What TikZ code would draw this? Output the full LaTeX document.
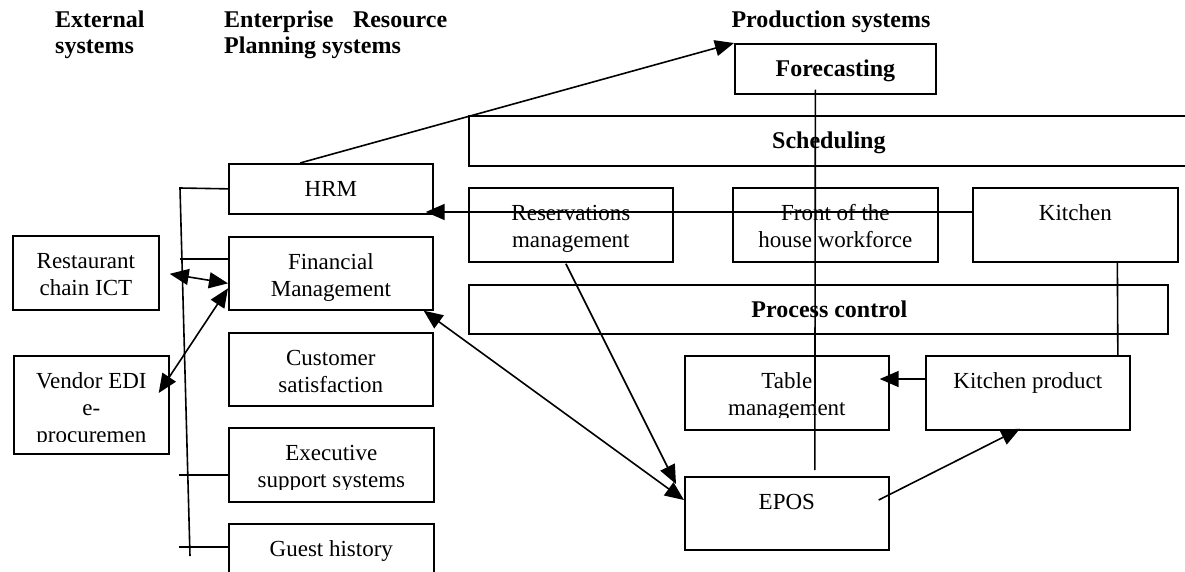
\documentclass[tikz,border=0pt]{standalone}
\usepackage{fontspec}
\setmainfont{Liberation Serif}
\usetikzlibrary{arrows.meta,calc}
\newcommand\mybt[2]{\parbox[t]{#1}{\centering\rule{0pt}{33pt}#2}}
\begin{document}
\begin{tikzpicture}[x=1pt,y=-1pt,
  box/.style={draw,line width=1.7pt,inner sep=0pt,anchor=north west},
  txt/.style={inner sep=0pt,anchor=north,font=\fontsize{23}{27}\selectfont},
  btxt/.style={inner sep=0pt,anchor=north,font=\fontsize{24}{27}\selectfont\bfseries},
  head/.style={inner sep=0pt,font=\fontsize{24}{26}\selectfont\bfseries},
  conn/.style={line width=1.6pt},
  arr/.style={conn,-{Triangle[length=19pt,width=16pt]}},
  darr/.style={conn,{Triangle[length=19pt,width=16pt]}-{Triangle[length=19pt,width=16pt]}},
]
\useasboundingbox (0,0) rectangle (1185,571);
\clip (0,0) rectangle (1185,571);

% headings
\node[head,anchor=base west] (hext) at (55,27) {\parbox[t]{150pt}{External\\systems}};
\node[head,anchor=base west] (herp) at (224,27) {\parbox[t]{230pt}{\makebox[223pt]{Enterprise\hfill Resource}\\Planning systems}};
\node[head,anchor=base] (hprod) at (831,27) {Production systems};

% boxes
\node[box,minimum width=201pt,minimum height=50pt] (fore) at (734,43) {};
\node[box,minimum width=720pt,minimum height=50pt] (sched) at (468,115) {};
\node[box,minimum width=204pt,minimum height=50pt] (hrm) at (228,163) {};
\node[box,minimum width=204pt,minimum height=74pt] (res) at (468,187) {};
\node[box,minimum width=205pt,minimum height=74pt] (front) at (732,187) {};
\node[box,minimum width=205pt,minimum height=74pt] (kit) at (972,187) {};
\node[box,minimum width=204pt,minimum height=73pt] (fin) at (228,236) {};
\node[box,minimum width=146pt,minimum height=74pt] (ict) at (12,235) {};
\node[box,minimum width=699pt,minimum height=49pt] (proc) at (468,284) {};
\node[box,minimum width=204pt,minimum height=73pt] (cust) at (228,332) {};
\node[box,minimum width=155pt,minimum height=98pt] (vend) at (13,355) {};
\node[box,minimum width=204pt,minimum height=74pt] (table) at (684,355) {};
\node[box,minimum width=204pt,minimum height=74pt] (kprod) at (925,355) {};
\node[box,minimum width=205pt,minimum height=74pt] (exec) at (228,427) {};
\node[box,minimum width=204pt,minimum height=73pt] (epos) at (684,476) {};
\node[box,minimum width=205pt,minimum height=74pt] (guest) at (228,523) {};

% texts
\node[btxt] (tfore) at (fore.north) {\mybt{201pt}{Forecasting}};
\node[btxt] (tsched) at (sched.north) {\mybt{720pt}{Scheduling}};
\node[btxt] (tproc) at ($(proc.north)+(11,0)$) {\mybt{699pt}{Process control}};
\node[txt] (thrm) at (hrm.north) {\mybt{204pt}{HRM}};
\node[txt] (tres) at (res.north) {\mybt{204pt}{Reservations\\management}};
\node[txt] (tfront) at (front.north) {\mybt{205pt}{Front of the\\house workforce}};
\node[txt] (tkit) at (kit.north) {\mybt{205pt}{Kitchen}};
\begin{scope}
\clip (fin.north west) rectangle ($(fin.south east)+(0,-7)$);
\node[txt] (tfin) at (fin.north) {\mybt{204pt}{Financial\\Management}};
\end{scope}
\node[txt] (tict) at (ict.north) {\mybt{146pt}{Restaurant\\chain ICT}};
\node[txt] (tcust) at (cust.north) {\mybt{204pt}{Customer\\satisfaction}};
\begin{scope}
\clip (vend.north west) rectangle ($(vend.south east)+(0,-13)$);
\node[txt] (tvend) at (vend.north) {\mybt{155pt}{Vendor EDI\\e-\\procuremen}};
\end{scope}
\begin{scope}
\clip (table.north west) rectangle ($(table.south east)+(0,-13)$);
\node[txt] (ttable) at (table.north) {\mybt{204pt}{Table\\management}};
\end{scope}
\node[txt] (tkprod) at (kprod.north) {\mybt{204pt}{Kitchen product}};
\begin{scope}
\clip (exec.north west) rectangle ($(exec.south east)+(0,-13)$);
\node[txt] (texec) at (exec.north) {\mybt{205pt}{Executive\\support systems}};
\end{scope}
\node[txt] (tepos) at (epos.north) {\mybt{204pt}{EPOS}};
\node[txt] (tguest) at (guest.north) {\mybt{205pt}{Guest history}};

% connectors
\draw[arr] ($(hrm.north west)+(72,0)$) -- (fore.north west);
\draw[arr] ($(kit.north west)+(0,25)$) -- ($(hrm.north east)+(-8,49)$);
\coordinate (vtop) at ($(fore.south)+(-20,-5)$);
\coordinate (vbot) at ($(epos.north)+(28,-6)$);
\draw[conn] (vtop) -- (vbot);
\draw[conn] ($(kit.south)+(42,0)$) -- ($(kprod.north)+(90,0)$);
\draw[arr] ($(kprod.north west)+(0,24)$) -- ($(table.north east)+(-10,24)$);
\draw[arr] ($(epos.north east)+(-11,24)$) -- ($(kprod.south west)+(95,-2)$);
\draw[arr] ($(res.south)+(-5,1)$) -- ($(epos.north west)+(-8,8)$);
\draw[darr] ($(fin.south east)+(-10,0)$) -- ($(epos.north west)+(0,24)$);
\draw[darr] ($(ict.east)+(10,1)$) -- ($(fin.west)+(0,10)$);
\draw[darr] ($(vend.north east)+(-11,38)$) -- ($(fin.west)+(0,15)$);

% bracket on the left of the ERP column
\coordinate (bt) at (180,188);
\coordinate (bb) at (190,556);
\draw[conn] (hrm.west) -- (bt) -- (bb);
\draw[conn] ($(fin.north west)+(0,23)$) -- ++(-48,0);
\draw[conn] ($(exec.north west)+(0,48)$) -- ++(-49,0);
\draw[conn] ($(guest.north west)+(0,24)$) -- ++(-49,0);
\end{tikzpicture}
\end{document}
